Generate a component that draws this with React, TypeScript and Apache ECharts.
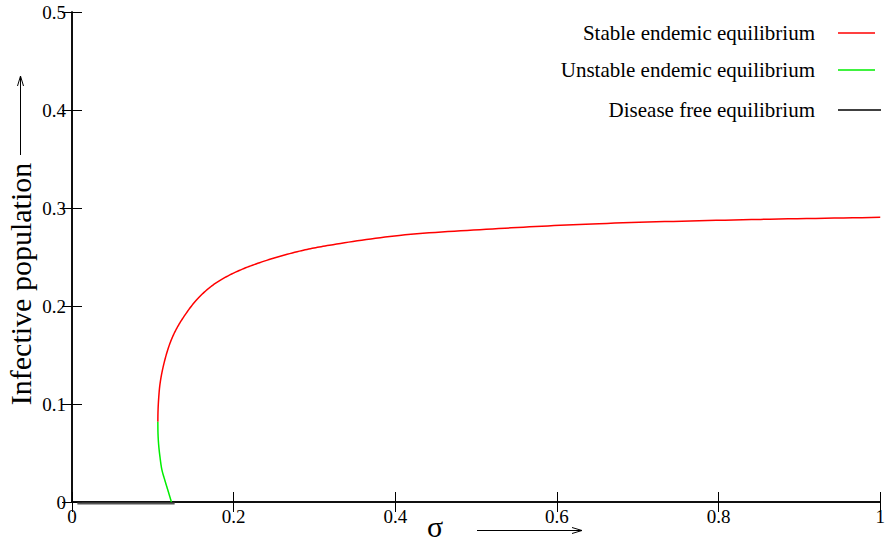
import React, { useEffect, useRef } from "react";
import * as echarts from "echarts";

// sigma, infective population
const stableSigma = [0.1062, 0.1064, 0.1071, 0.109, 0.1138, 0.1212, 0.1285, 0.1384, 0.154, 0.1744, 0.1992, 0.2321, 0.2815, 0.3185, 0.405, 0.528, 0.652, 0.8185, 1.0];
const stableI = [0.0819, 0.092, 0.104, 0.1211, 0.1415, 0.1619, 0.1755, 0.1891, 0.2061, 0.2214, 0.2333, 0.2442, 0.256, 0.262, 0.272, 0.279, 0.284, 0.2878, 0.2905];

const unstableSigma = [0.1062, 0.1064, 0.1072, 0.1088, 0.1112, 0.1148, 0.119, 0.123];
const unstableI = [0.0819, 0.07, 0.0585, 0.0463, 0.033, 0.0224, 0.011, 0.0];

const dfeSigma = [0.0066, 0.127];
const dfeI = [-0.0015, -0.0015];

const legendNames = ["Stable endemic equilibrium", "Unstable endemic equilibrium", "Disease free equilibrium"];
const legendColors = ["#ff0000", "#00ee00", "#000000"];

const xTicks = ["0", "0.2", "0.4", "0.6", "0.8", "1"];
const yTicks = ["0", "0.1", "0.2", "0.3", "0.4", "0.5"];

const zip = (a: number[], b: number[]) => a.map((v, i) => [v, b[i]]);

const FONT = "Liberation Serif";

// centripetal Catmull-Rom through projected pixel points (rendering only)
function spline(pts: number[][], steps = 16): number[][] {
  const n = pts.length;
  if (n < 3) return pts;
  const P = (i: number) => {
    if (i < 0) return [2 * pts[0][0] - pts[1][0], 2 * pts[0][1] - pts[1][1]];
    if (i >= n) return [2 * pts[n - 1][0] - pts[n - 2][0], 2 * pts[n - 1][1] - pts[n - 2][1]];
    return pts[i];
  };
  const d = (a: number[], b: number[]) => Math.max(Math.sqrt(Math.hypot(b[0] - a[0], b[1] - a[1])), 1e-4);
  const lerp = (a: number[], b: number[], ta: number, tb: number, t: number) => {
    const w = (t - ta) / (tb - ta);
    return [a[0] + (b[0] - a[0]) * w, a[1] + (b[1] - a[1]) * w];
  };
  const out: number[][] = [pts[0]];
  for (let i = 0; i < n - 1; i++) {
    const p0 = P(i - 1), p1 = P(i), p2 = P(i + 1), p3 = P(i + 2);
    const t0 = 0, t1 = t0 + d(p0, p1), t2 = t1 + d(p1, p2), t3 = t2 + d(p2, p3);
    for (let s = 1; s <= steps; s++) {
      const t = t1 + ((t2 - t1) * s) / steps;
      const a1 = lerp(p0, p1, t0, t1, t);
      const a2 = lerp(p1, p2, t1, t2, t);
      const a3 = lerp(p2, p3, t2, t3, t);
      const b1 = lerp(a1, a2, t0, t2, t);
      const b2 = lerp(a2, a3, t1, t3, t);
      out.push(lerp(b1, b2, t1, t2, t));
    }
  }
  return out;
}

function curveSeries(name: string, xs: number[], ys: number[], color: string) {
  return {
    name,
    type: "custom",
    data: zip(xs, ys),
    encode: { x: 0, y: 1 },
    renderItem: (params: any, api: any) => {
      if (params.dataIndex !== 0) return null;
      const pts = xs.map((x, i) => api.coord([x, ys[i]]));
      return {
        type: "polyline",
        shape: { points: spline(pts) },
        style: { stroke: color, lineWidth: 1.5, fill: null },
      };
    },
  };
}

export default function App() {
  const ref = useRef<HTMLDivElement>(null);
  useEffect(() => {
    if (!ref.current) return;
    const chart = echarts.init(ref.current, null, { renderer: "svg" });
    const axisLine = { show: true, lineStyle: { color: "#000", width: 1.5 } };
    const tick = { show: true, inside: true, length: 10, lineStyle: { color: "#000", width: 1 } };
    const legendY = [33, 70, 110];
    const graphic: any[] = [];
    legendNames.forEach((n, i) => {
      graphic.push({
        type: "text",
        x: 815,
        y: legendY[i],
        style: { text: n, font: `21px '${FONT}'`, fill: "#000", align: "right", verticalAlign: "middle" },
      });
      graphic.push({
        type: "line",
        shape: { x1: 838, y1: legendY[i], x2: i === 2 ? 881 : 875, y2: legendY[i] },
        style: { stroke: legendColors[i], lineWidth: 1.5 },
      });
    });
    // y title
    graphic.push({
      type: "text",
      x: 20,
      y: 284,
      rotation: Math.PI / 2,
      style: { text: "Infective population", font: `30px '${FONT}'`, fill: "#000", align: "center", verticalAlign: "middle" },
    });
    graphic.push({ type: "line", shape: { x1: 20.5, y1: 155, x2: 20.5, y2: 76 }, style: { stroke: "#000", lineWidth: 1 } });
    graphic.push({ type: "polyline", shape: { points: [[17.5, 86], [20.5, 76], [23.5, 86]] }, style: { stroke: "#000", lineWidth: 1, fill: null } });
    // x title
    graphic.push({
      type: "text",
      x: 435,
      y: 526,
      style: { text: "σ", font: `30px '${FONT}'`, fill: "#000", align: "center", verticalAlign: "middle" },
    });
    graphic.push({ type: "line", shape: { x1: 477, y1: 530.5, x2: 582, y2: 530.5 }, style: { stroke: "#000", lineWidth: 1 } });
    graphic.push({ type: "polyline", shape: { points: [[572, 527.5], [582, 530.5], [572, 533.5]] }, style: { stroke: "#000", lineWidth: 1, fill: null } });

    chart.setOption({
      animation: false,
      backgroundColor: "#fff",
      grid: { left: 72, top: 12, width: 810, height: 490 },
      xAxis: [
        {
          type: "value", min: 0, max: 1, interval: 0.2, position: "bottom",
          axisLine, axisTick: tick, splitLine: { show: false },
          axisLabel: { margin: 5, fontFamily: FONT, fontSize: 19, color: "#000", formatter: (v: number) => xTicks[Math.round(v * 5)] },
        },
        {
          type: "value", min: 0, max: 1, interval: 0.2, position: "top",
          axisLine, axisTick: tick, splitLine: { show: false }, axisLabel: { show: false },
        },
      ],
      yAxis: [
        {
          type: "value", min: 0, max: 0.5, interval: 0.1, position: "left",
          axisLine, axisTick: tick, splitLine: { show: false },
          axisLabel: { margin: 6, fontFamily: FONT, fontSize: 19, color: "#000", formatter: (v: number) => yTicks[Math.round(v * 10)] },
        },
        {
          type: "value", min: 0, max: 0.5, interval: 0.1, position: "right",
          axisLine, axisTick: tick, splitLine: { show: false }, axisLabel: { show: false },
        },
      ],
      series: [
        curveSeries(legendNames[0], stableSigma, stableI, legendColors[0]),
        curveSeries(legendNames[1], unstableSigma, unstableI, legendColors[1]),
        {
          name: legendNames[2], type: "line", data: zip(dfeSigma, dfeI),
          showSymbol: false, lineStyle: { color: "#555", width: 2 }, clip: false, z: 1,
        },
      ],
      graphic,
    });
    return () => chart.dispose();
  }, []);
  return <div ref={ref} style={{ position: "fixed", left: 0, top: 0, width: 888, height: 544 }} />;
}
